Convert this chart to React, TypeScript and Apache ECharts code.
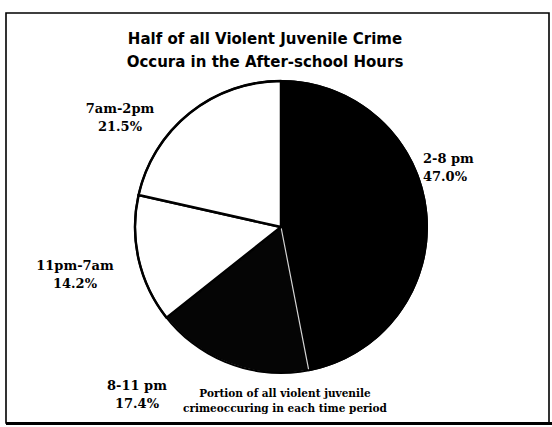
import React, { useEffect, useRef } from "react";
import * as echarts from "echarts";

const categories = ["2-8 pm", "8-11 pm", "11pm-7am", "7am-2pm"];
const shares = [47.0, 17.4, 14.2, 21.5];
const titleLines = ["Half of all Violent Juvenile Crime", "Occura in the After-school Hours"];
const noteLines = ["Portion of all violent juvenile", "crimeoccuring in each time period"];

const sliceFill = ["#000000", "#050505", "#ffffff", "#ffffff"];
const sliceBorder = ["#000000", "#d4d4d4", "#000000", "#000000"];
const sliceBorderWidth = [2, 1.2, 2.5, 2.5];
const labelSpots = [
  { x: 423, y: 167, align: "left" },
  { x: 137, y: 394, align: "center" },
  { x: 75, y: 274, align: "center" },
  { x: 120, y: 117, align: "center" },
];

export default function App() {
  const ref = useRef<HTMLDivElement>(null);
  useEffect(() => {
    if (!ref.current) return;
    const chart = echarts.init(ref.current, null, { renderer: "svg" });
    const serif = "'DejaVu Serif', 'Liberation Serif', serif";
    chart.setOption({
      animation: false,
      backgroundColor: "#ffffff",
      series: [
        {
          type: "pie",
          center: [281, 227],
          radius: 146,
          startAngle: 90,
          clockwise: true,
          silent: true,
          data: categories.map((name, i) => ({
            name,
            value: shares[i],
            itemStyle: {
              color: sliceFill[i],
              borderColor: sliceBorder[i],
              borderWidth: sliceBorderWidth[i],
            },
          })),
          label: {
            show: true,
            position: "outside",
            formatter: (p: any) => `${p.name}\n${Number(p.value).toFixed(1)}%`,
            fontFamily: serif,
            fontWeight: "bold",
            fontSize: 13,
            lineHeight: 18,
            color: "#000",
          },
          labelLine: { show: false },
          labelLayout: (p: any) => {
            const s = labelSpots[p.dataIndex];
            return { x: s.x, y: s.y, align: s.align, verticalAlign: "middle", hideOverlap: false };
          },
        },
        {
          type: "pie",
          center: [281, 227],
          radius: [145, 147],
          silent: true,
          label: { show: false },
          labelLine: { show: false },
          itemStyle: { color: "#000" },
          data: [{ name: "rim", value: 1 }],
          z: 5,
        },
      ],
      graphic: [
        {
          type: "rect",
          shape: { x: 6, y: 13, width: 543, height: 410 },
          style: { fill: "none", stroke: "#000", lineWidth: 1.6 },
          silent: true,
        },
        {
          type: "line",
          shape: { x1: 6, y1: 423.5, x2: 552, y2: 423.5 },
          style: { stroke: "#000", lineWidth: 3 },
          silent: true,
        },
        {
          type: "text",
          x: 265,
          y: 27,
          style: {
            text: titleLines.join("\n"),
            fontFamily: "'DejaVu Sans', 'Liberation Sans', sans-serif",
            fontWeight: "bold",
            fontSize: 15,
            lineHeight: 23,
            fill: "#000",
            align: "center",
            verticalAlign: "top",
          },
        },
        {
          type: "text",
          x: 285,
          y: 385,
          style: {
            text: noteLines.join("\n"),
            fontFamily: serif,
            fontWeight: "bold",
            fontSize: 10.5,
            lineHeight: 15,
            fill: "#000",
            align: "center",
            verticalAlign: "top",
          },
        },
      ],
    });
    return () => chart.dispose();
  }, []);
  return (
    <div
      ref={ref}
      style={{ position: "fixed", left: 0, top: 0, width: 552, height: 427 }}
    />
  );
}
